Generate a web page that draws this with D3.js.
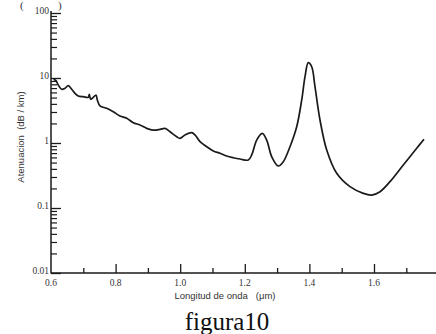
<!DOCTYPE html>
<html><head><meta charset="utf-8">
<script src="https://cdn.jsdelivr.net/npm/d3@7"></script>
<style>body{margin:0;background:#fff;}svg{display:block;}text{white-space:pre;}</style>
</head><body>
<svg id="c" width="436" height="334"></svg>
<script>
const wavelength = [0.6080,0.6155,0.6226,0.6331,0.6433,0.6536,0.6641,0.6743,0.6845,0.7000,0.7155,0.7186,0.7229,0.7310,0.7393,0.7433,0.7517,0.7724,0.7929,0.8136,0.8344,0.8548,0.8755,0.8963,0.9167,0.9375,0.9529,0.9684,0.9892,0.9994,1.0149,1.0356,1.0458,1.0613,1.0820,1.1025,1.1232,1.1440,1.1644,1.1851,1.2108,1.2214,1.2368,1.2542,1.2678,1.2833,1.3037,1.3192,1.3399,1.3607,1.3762,1.3864,1.3966,1.4071,1.4173,1.4328,1.4536,1.4845,1.5257,1.5669,1.5929,1.6186,1.6495,1.6907,1.7322,1.7548];
const attenuation = [9.6,9.09,7.80,6.70,6.94,7.61,6.70,5.82,5.28,5.16,5.05,5.62,4.70,5.05,5.48,4.59,3.71,3.42,3.03,2.60,2.40,2.05,1.89,1.68,1.58,1.62,1.68,1.49,1.25,1.18,1.33,1.44,1.33,1.05,0.877,0.753,0.695,0.631,0.594,0.567,0.547,0.654,1.11,1.41,1.11,0.616,0.443,0.515,0.877,1.78,4.59,10.47,17.2,14.9,7.35,2.26,0.780,0.342,0.213,0.168,0.158,0.178,0.254,0.459,0.829,1.14];
const xMajorTicks = [0.6,0.8,1.0,1.2,1.4,1.6];
const xMinorTicks = [0.7,0.9,1.1,1.3,1.5,1.7];
const yMajorTicks = [100,10,1,0.1,0.01];
const yTickLabels = ["100","10","1","0.1","0.01"];
const xTickLabels = ["0.6","0.8","1.0","1.2","1.4","1.6"];

const svg = d3.select("#c");
const x = d3.scaleLinear().domain([0.6,1.8]).range([51,438.6]);
const y = d3.scaleLog().domain([0.01,100]).range([273,13]);
const ink = "#1a1a1a";
const serif = "'Liberation Serif','DejaVu Serif',serif";
const sans = "'Liberation Sans','DejaVu Sans',sans-serif";

const yMinor = [];
for (let d = 0.01; d < 100; d *= 10) for (let k = 2; k <= 9; k++) yMinor.push(+(d*k).toPrecision(3));

const gy = svg.append("g").attr("transform","translate(51,0)");
gy.call(d3.axisLeft(y).tickValues(yMinor).tickSizeInner(-6).tickSizeOuter(0).tickFormat(""));
gy.call(g=>g.selectAll(".domain").remove());
const gy2 = svg.append("g").attr("transform","translate(51,0)");
gy2.call(d3.axisLeft(y).tickValues(yMajorTicks).tickSizeInner(-10).tickSizeOuter(0).tickPadding(2)
  .tickFormat((d,i)=>yTickLabels[i]));
gy.selectAll("line").attr("stroke",ink).attr("stroke-width",1.2);
gy2.selectAll("line").attr("stroke",ink).attr("stroke-width",1.3);
gy2.selectAll("text").attr("font-family",serif).attr("font-size",9.5).attr("fill","#333").attr("dy","0.1em");
gy2.select(".domain").attr("d","M0,273.5V11").attr("stroke",ink).attr("stroke-width",1.5);

const gx = svg.append("g").attr("transform","translate(0,273)");
gx.call(d3.axisBottom(x).tickValues(xMinorTicks).tickSizeInner(-5).tickSizeOuter(0).tickFormat(""));
gx.select(".domain").attr("d","M51,0H436").attr("stroke",ink).attr("stroke-width",1.5);
const gx2 = svg.append("g").attr("transform","translate(0,273)");
gx2.call(d3.axisBottom(x).tickValues(xMajorTicks.slice(1)).tickSizeInner(-9).tickSizeOuter(0).tickFormat(""));
gx2.select(".domain").remove();
gx.selectAll("line").attr("stroke",ink).attr("stroke-width",1.3);
gx2.selectAll("line").attr("stroke",ink).attr("stroke-width",1.3);
svg.append("g").selectAll("text").data(xMajorTicks).join("text")
  .attr("x",d=>x(d)).attr("y",286).attr("text-anchor","middle")
  .attr("font-family",serif).attr("font-size",9.5).attr("fill","#333")
  .text((d,i)=>xTickLabels[i]);

const pts = wavelength.map((w,i)=>[w,attenuation[i]]);
svg.append("path").datum(pts)
  .attr("d", d3.line().x(d=>x(d[0])).y(d=>y(d[1])).curve(d3.curveCatmullRom.alpha(0.5)))
  .attr("fill","none").attr("stroke",ink).attr("stroke-width",1.7);

svg.append("text").attr("transform","translate(24,137) rotate(-90)").attr("text-anchor","middle")
  .attr("font-family",sans).attr("font-size",9.5).attr("fill","#333")
  .text("Atenuacion  (dB / km)");
svg.append("text").attr("x",225).attr("y",299).attr("text-anchor","middle")
  .attr("font-family",sans).attr("font-size",9.5).attr("fill","#333")
  .text("Longitud de onda   (μm)");
svg.append("text").attr("x",227).attr("y",330).attr("text-anchor","middle")
  .attr("font-family",serif).attr("font-size",25).attr("fill","#111")
  .text("figura10");
svg.append("text").attr("x",20).attr("y",9).attr("font-family",serif).attr("font-size",11).attr("fill","#333").text("(");
svg.append("text").attr("x",58).attr("y",9).attr("font-family",serif).attr("font-size",11).attr("fill","#333").text(")");
</script>
</body></html>
